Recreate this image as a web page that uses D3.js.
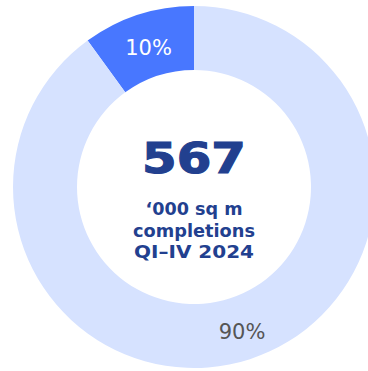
<!DOCTYPE html>
<html>
<head>
<meta charset="utf-8">
<script src="https://cdn.jsdelivr.net/npm/d3@7"></script>
<style>
  html, body { margin: 0; padding: 0; background: #fff; }
  svg { display: block; font-family: "DejaVu Sans", Verdana, sans-serif; }
</style>
</head>
<body>
<div id="chart"></div>
<script>
var labels = ["10%", "90%"];
var values = [10, 90];
var colors = ["#4877ff", "#d6e2ff"];
var labelColors = ["#ffffff", "#555555"];
var centerValue = "567";
var centerLines = ["\u2018000 sq m", "completions", "QI\u2013IV 2024"];
var centerWidths = [97, 122, 120];

var width = 368, height = 371;
var cx = 194, cy = 187;
var outerR = 181, innerR = 117;

var svg = d3.select("#chart").append("svg")
    .attr("width", width)
    .attr("height", height);

var g = svg.append("g")
    .attr("transform", "translate(" + cx + "," + cy + ")");

var pie = d3.pie()
    .sort(null)
    .startAngle(-2 * Math.PI * values[0] / 100)
    .endAngle(2 * Math.PI - 2 * Math.PI * values[0] / 100)
    .value(function(d) { return d; });

var arc = d3.arc().innerRadius(innerR).outerRadius(outerR);
var labelArc = d3.arc().innerRadius(147).outerRadius(147);

var arcs = g.selectAll(".arc")
    .data(pie(values)).enter()
    .append("g")
    .attr("class", "arc");

arcs.append("path")
    .attr("d", arc)
    .style("fill", function(d, i) { return colors[i]; });

// slice labels
arcs.append("text")
    .attr("transform", function(d, i) {
        var c = labelArc.centroid(d);
        if (i == 1) c = [48, 144];
        return "translate(" + c + ")";
    })
    .attr("text-anchor", "middle")
    .attr("dy", "0.36em")
    .style("font-size", "21px")
    .style("fill", function(d, i) { return labelColors[i]; })
    .text(function(d, i) { return labels[i]; });

// centre text
g.append("text")
    .attr("text-anchor", "middle")
    .attr("y", -14)
    .attr("textLength", 104)
    .attr("lengthAdjust", "spacingAndGlyphs")
    .style("font-size", "43px")
    .style("font-weight", "bold")
    .style("fill", "#22408f")
    .style("stroke", "#22408f")
    .style("stroke-width", 1.2)
    .text(centerValue);

g.selectAll(".sub")
    .data(centerLines).enter()
    .append("text")
    .attr("class", "sub")
    .attr("text-anchor", "middle")
    .attr("y", function(d, i) { return 28 + i * 21.5; })
    .attr("textLength", function(d, i) { return centerWidths[i]; })
    .attr("lengthAdjust", "spacingAndGlyphs")
    .style("font-size", "17.5px")
    .style("font-weight", "bold")
    .style("fill", "#22408f")
    .text(function(d) { return d; });
</script>
</body>
</html>
